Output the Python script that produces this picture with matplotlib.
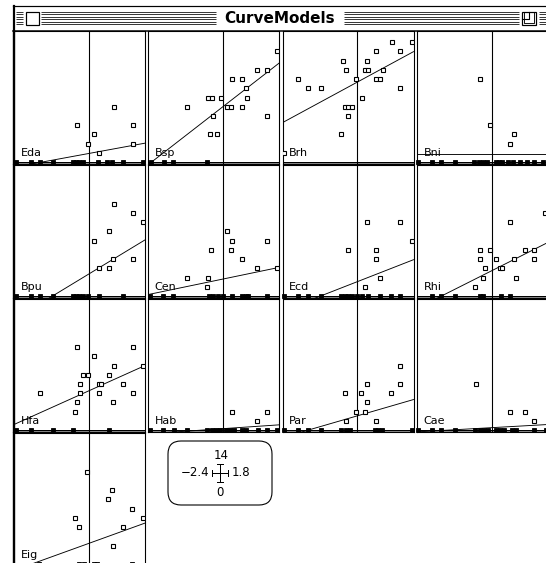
import matplotlib
matplotlib.use("Agg")
import matplotlib.pyplot as plt
from matplotlib.patches import FancyBboxPatch, Rectangle

W, H = 546, 563

# ---------------- data ----------------
titles = ["Eda", "Bsp", "Brh", "Bni", "Bpu", "Cen", "Ecd", "Rhi",
          "Hfa", "Hab", "Par", "Cae", "Eig"]

eda_x = [0.80, -0.37, 1.42, 0.15, -0.03, 1.42, 0.34]
eda_y = [6, 4, 4, 3, 2, 2, 1]
eda_zero = [-2.34, -1.87, -1.57, -1.14, -0.52, -0.41, -0.31, -0.2, 0.30, 0.59, 0.73, 1.08, 1.72]

bsp_x = [1.75, 1.09, 1.41, 0.30, 0.62, 0.75, -0.48, -0.36, -0.07, 0.79, -1.16, 0.13, 0.26, 0.62, -0.31, 1.41, -0.41, -0.19]
bsp_y = [12, 10, 10, 9, 9, 8, 7, 7, 7, 7, 6, 6, 6, 6, 5, 5, 3, 3]
bsp_zero = [-2.31, -1.89, -1.59, -0.51]

brh_x = [1.10, 1.74, 0.61, 1.38, -0.46, 0.31, -0.38, 0.25, 0.33, 0.81, -1.89, -0.04, 0.61, 0.73,
         -1.59, -1.17, 1.38, 0.14, -0.40, -0.29, -0.18, -0.29, -0.51, -2.35]
brh_y = [13, 13, 12, 12, 11, 11, 10, 10, 10, 10, 9, 9, 9, 9, 8, 8, 8, 7, 6, 6, 6, 5, 3, 1]
brh_zero = []

bni_x = [-0.39, -0.05, 0.72, 0.59]
bni_y = [9, 4, 3, 2]
bni_zero = [-2.37, -1.91, -1.63, -1.18, -0.56, -0.42, -0.29, -0.16, 0.12, 0.23, 0.34, 0.51, 0.68, 0.91, 1.13, 1.36, 1.64]

bpu_x = [0.80, 1.42, 1.75, 0.63, 0.15, 1.42, 0.76, 0.34, 0.63]
bpu_y = [10, 9, 8, 7, 6, 4, 4, 3, 3]
bpu_zero = [-2.34, -1.86, -1.58, -1.15, -0.5, -0.4, -0.3, -0.2, -0.03, 0.32, 1.1]

cen_x = [0.13, 0.30, 1.40, -0.39, 0.26, 0.62, 1.09, 1.75, -1.16, -0.48, -0.50]
cen_y = [7, 6, 6, 5, 5, 4, 3, 3, 2, 2, 1]
cen_zero = [-2.34, -1.92, -1.6, -0.44, -0.31, -0.17, 0.01, 0.30, 0.62, 0.73, 0.81, 1.41]

ecd_x = [0.31, 1.38, 1.74, -0.29, 0.61, 0.61, 0.73, 0.25]
ecd_y = [8, 8, 6, 5, 5, 4, 2, 1]
ecd_zero = [-2.35, -1.89, -1.59, -1.17, -0.51, -0.40, -0.29, -0.18, -0.01, 0.16, 0.33, 0.73, 1.07, 1.38]

rhi_x = [1.70, 0.59, -0.39, -0.07, -0.39, 0.12, 0.72, 1.05, 1.36, 1.36, -0.22, 0.26, 0.32, -0.30, 0.77, -0.54]
rhi_y = [9, 8, 5, 5, 4, 4, 4, 5, 5, 4, 3, 3, 3, 2, 2, 1]
rhi_zero = [-1.91, -1.63, -1.18, -0.39, -0.28, 0.29, 0.59]

hfa_x = [-0.37, 1.42, 0.15, 0.80, 1.75, -0.20, -0.03, 0.63, -0.28, 0.32, 0.38, 1.10,
         -1.58, -0.28, 0.34, 1.42, -0.37, 0.76, -0.45]
hfa_y = [9, 9, 8, 7, 7, 6, 6, 6, 5, 5, 5, 5, 4, 4, 4, 4, 3, 3, 2]
hfa_zero = [-2.34, -1.86, -1.15, -0.5, 0.63]

hab_x = [0.30, 1.40, 1.09]
hab_y = [2, 2, 1]
hab_zero = [-2.34, -1.92, -1.58, -1.16, -0.5, -0.36, -0.21, -0.1, 0.1, 0.24, 0.35, 0.62, 0.75, 1.12, 1.41, 1.72]

par_x = [1.38, 0.31, 1.38, -0.40, 0.12, 1.09, 0.31, -0.04, 0.25, -0.38, 0.61]
par_y = [7, 5, 5, 4, 4, 4, 3, 2, 2, 1, 1]
par_zero = [-2.35, -1.89, -1.59, -1.17, -0.51, -0.38, -0.23, 0.56, 0.67, 0.78, 1.74]

cae_x = [-0.50, 0.59, 1.05, 1.36]
cae_y = [5, 2, 2, 1]
cae_zero = [-2.37, -1.91, -1.63, -1.18, -0.54, -0.39, -0.24, -0.11, 0.12, 0.25, 0.40, 0.63, 0.77, 1.36, 1.72]

eig_x = [-0.05, 0.75, 0.62, 1.39, 1.75, -0.46, -0.30, 1.08, 0.78]
eig_y = [10, 8, 7, 6, 5, 5, 4, 4, 2]
eig_zero = [-1.6, -0.32, -0.16, 0.16, 0.27, 1.39]

# fitted lines: intercept, slope
intercepts = [0.94, 6.0, 8.67, 0.93, 2.4, 1.85, 1.57, 2.76, 4.26, 0.16, 1.55, 0.27, 2.25]
slopes = [0.62, 2.62, 1.83, 0.0, 2.05, 0.70, 1.32, 1.70, 1.52, 0.23, 0.98, 0.19, 1.22]

x_range = [-2.4, 1.8]
y_range = [0, 14]

xs_all = [eda_x, bsp_x, brh_x, bni_x, bpu_x, cen_x, ecd_x, rhi_x, hfa_x, hab_x, par_x, cae_x, eig_x]
ys_all = [eda_y, bsp_y, brh_y, bni_y, bpu_y, cen_y, ecd_y, rhi_y, hfa_y, hab_y, par_y, cae_y, eig_y]
zeros_all = [eda_zero, bsp_zero, brh_zero, bni_zero, bpu_zero, cen_zero, ecd_zero, rhi_zero,
             hfa_zero, hab_zero, par_zero, cae_zero, eig_zero]

# ---------------- figure ----------------
fig = plt.figure(figsize=(W / 100, H / 100), dpi=100)
fig.patch.set_facecolor("white")

col_left = [14, 148, 282.5, 417]
pw, ph = 131, 133
row_top = [31, 165, 299, 433]
PX = 0.72  # one pixel in points


def add_panel(i):
    r, c = divmod(i, 4)
    left = col_left[c]
    top = row_top[r]
    ax = fig.add_axes([left / W, 1 - (top + ph) / H, pw / W, ph / H])
    ax.set_xlim(x_range[0], x_range[1])
    ax.set_ylim(y_range[0] - 0.2, y_range[1] + 0.2)
    ax.set_xticks([])
    ax.set_yticks([])
    for s in ax.spines.values():
        s.set_linewidth(1.1 * PX)
        s.set_color("black")
    if c == 0:
        ax.spines["left"].set_linewidth(2.2 * PX)
    ax.axvline(0, color="black", lw=1.1 * PX, zorder=2)
    ax.axhline(0, color="black", lw=1.0 * PX, zorder=2)
    ax.axhspan(-0.2, 0, color="#888888", lw=0, zorder=1)
    # fitted line
    a, b = intercepts[i], slopes[i]
    ax.plot(x_range, [a + b * x_range[0], a + b * x_range[1]], color="black", lw=0.9 * PX, zorder=3)
    # scatter points
    ax.plot(xs_all[i], ys_all[i], ls="none", marker="s", ms=2.9, mfc="white", mec="black",
            mew=0.8, zorder=4)
    # zeros on the baseline
    if zeros_all[i]:
        ax.plot(zeros_all[i], [0] * len(zeros_all[i]), ls="none", marker="s", ms=2.9,
                mfc="black", mec="black", mew=0.6, zorder=5, clip_on=False)
    ax.text(0.05, 0.062, titles[i], transform=ax.transAxes, fontsize=8, ha="left",
            va="baseline", zorder=6, family="DejaVu Sans")
    return ax


for i in range(len(titles)):
    add_panel(i)

# ---------------- window chrome (pixel overlay) ----------------
ov = fig.add_axes([0, 0, 1, 1], zorder=10)
ov.set_xlim(0, W)
ov.set_ylim(H, 0)
ov.axis("off")
ov.patch.set_alpha(0)

# title bar background
ov.add_patch(Rectangle((13, 6), W - 13, 24, facecolor="white", edgecolor="none"))
ov.plot([13, W], [6, 6], color="black", lw=1.2 * PX)
ov.plot([13, W], [30.5, 30.5], color="black", lw=1.5 * PX)
ov.plot([13.5, 13.5], [6, H], color="black", lw=2.2 * PX)

stripe_y = [11.5, 14, 16.5, 19, 21.5, 24]
segments = [(16, 23), (41, 216), (344, 519), (539, W)]
for yy in stripe_y:
    for x0, x1 in segments:
        ov.plot([x0, x1], [yy, yy], color="#3a3a3a", lw=1.0 * PX, solid_capstyle="butt")

# close box
ov.add_patch(Rectangle((26, 12), 13, 13, facecolor="white", edgecolor="black", lw=1.2 * PX))
# zoom box
ov.add_patch(Rectangle((522, 12), 14, 13, facecolor="white", edgecolor="black", lw=1.2 * PX))
ov.plot([529, 529, 522], [12, 19, 19], color="black", lw=1.1 * PX)
ov.plot([524, 524, 534, 534], [12, 23, 23, 12], color="black", lw=0.9 * PX)

ov.text(280, 18.5, "CurveModels", ha="center", va="center", fontsize=11, fontweight="bold",
        family="DejaVu Sans")

# range legend box
ov.add_patch(FancyBboxPatch((168 + 13, 441 + 13), 104 - 26, 64 - 26,
                            boxstyle="round,pad=13", facecolor="white", edgecolor="black",
                            lw=1.1 * PX))
cx, cy = 220, 473
ov.text(cx + 1, 455.5, f"{y_range[1]:g}", ha="center", va="center", fontsize=8.5)
ov.text(cx, 492, f"{y_range[0]:g}", ha="center", va="center", fontsize=8.5)
ov.text(209, cy, f"\u2212{abs(x_range[0]):g}", ha="right", va="center", fontsize=8.5)
ov.text(232, cy, f"{x_range[1]:g}", ha="left", va="center", fontsize=8.5)
ov.plot([cx, cx], [464, 482], color="black", lw=1.0 * PX)
ov.plot([cx - 3, cx + 3], [464, 464], color="black", lw=1.0 * PX)
ov.plot([cx - 3, cx + 3], [482, 482], color="black", lw=1.0 * PX)
ov.plot([212, 228], [cy, cy], color="black", lw=1.0 * PX)
ov.plot([212, 212], [cy - 3, cy + 3], color="black", lw=1.0 * PX)
ov.plot([228, 228], [cy - 3, cy + 3], color="black", lw=1.0 * PX)

fig.savefig("out.png", dpi=100, facecolor="white")
